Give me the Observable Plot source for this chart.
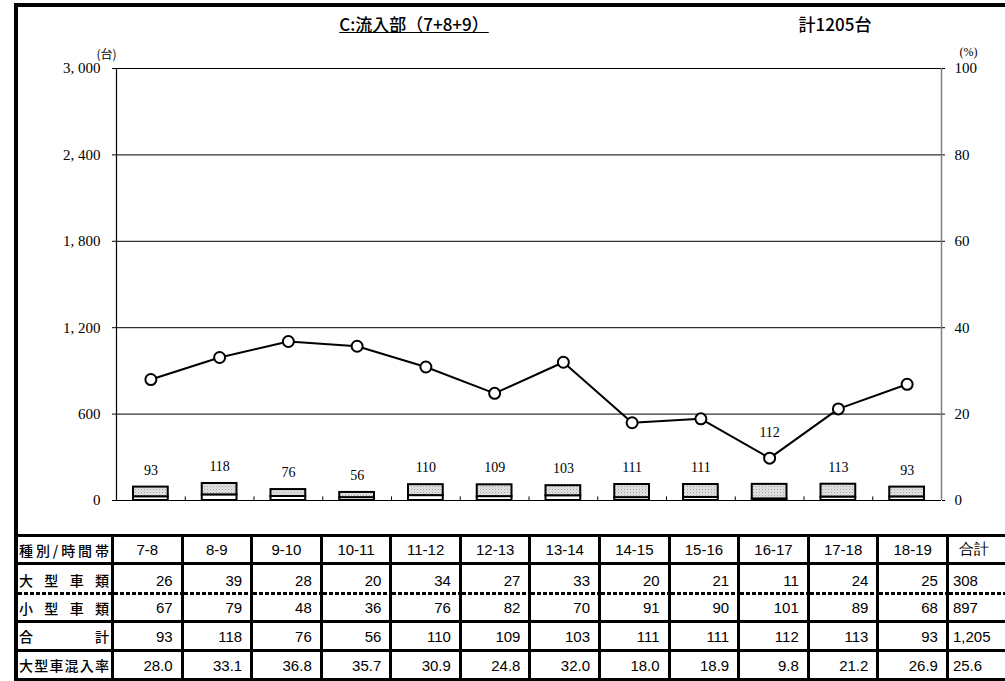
<!DOCTYPE html>
<html>
<head>
<meta charset="utf-8">
<script src="https://cdn.jsdelivr.net/npm/d3@7"></script>
<script src="https://cdn.jsdelivr.net/npm/@observablehq/plot@0.6"></script>
<style>
  html, body { margin: 0; padding: 0; background: #fff; overflow: hidden; }
  #wrap { position: relative; width: 1005px; height: 681px; overflow: hidden; background: #fff; }
  #chart { position: absolute; left: 0; top: 0; }
  #frame { position: absolute; left: 14px; top: 3px; width: 1100px; height: 700px;
           border-left: 4px solid #000; border-top: 4px solid #000; pointer-events: none; z-index: 3; }
  .ttl { position: absolute; top: 12px; font-family: "Noto Sans CJK JP", sans-serif; font-size: 17px; font-weight: 500;
         color: #000; white-space: nowrap; transform: translateX(-50%); line-height: 24px; }
  #table { position: absolute; left: 18px; top: 534px; border-top: 3px solid #000; display: grid; z-index: 2;
           grid-template-columns: 96px repeat(12, 69.58px) 70px; grid-template-rows: 28px 30px 28px 29px 29px; }
  .c { box-sizing: border-box; border-right: 3px solid #000; border-bottom: 3px solid #000; display: flex;
       align-items: center; font-family: "Liberation Sans Narrow", "Liberation Sans", sans-serif; font-size: 15px;
       color: #000; white-space: nowrap; }
  .num { justify-content: flex-end; padding-right: 8px; }
  .last { padding-right: 0; justify-content: flex-start; padding-left: 4px; }
  .hd { justify-content: center; }
  .lab { justify-content: space-between; padding: 0 2px 0 1px; font-family: "Noto Sans CJK JP", sans-serif; font-size: 14px; font-weight: 500; }
  .dot { border-bottom: none; background-image: repeating-linear-gradient(to right, #000 0 4px, transparent 4px 6px);
         background-size: 100% 3px; background-position: left bottom; background-repeat: no-repeat; }
</style>
</head>
<body>
<div id="wrap">
  <div id="chart"></div>
  <div id="frame"></div>
  <div class="ttl" id="t1" style="left:414px; text-decoration: underline;"></div>
  <div class="ttl" id="t2" style="left:835px;"></div>
  <div id="table"></div>
</div>
<script>
// ---- data ----
const title = "C:流入部（7+8+9）";
const totalTitle = "計1205台";
const categories = ["7-8","8-9","9-10","10-11","11-12","12-13","13-14","14-15","15-16","16-17","17-18","18-19"];
const large = [26, 39, 28, 20, 34, 27, 33, 20, 21, 11, 24, 25];
const small = [67, 79, 48, 36, 76, 82, 70, 91, 90, 101, 89, 68];
const totals = [93, 118, 76, 56, 110, 109, 103, 111, 111, 112, 113, 93];
const rates = [28.0, 33.1, 36.8, 35.7, 30.9, 24.8, 32.0, 18.0, 18.9, 9.8, 21.2, 26.9];
const sumLarge = "308", sumSmall = "897", sumTotal = "1,205", sumRate = "25.6";
const yTicks = [0, 600, 1200, 1800, 2400, 3000];
const rateTicks = [0, 20, 40, 60, 80, 100];
const rowLabels = ["種別/時間帯", "大型車類", "小型車類", "合計", "大型車混入率"];
const headerTotal = "合計";

// ---- chart ----
const W = 1005, H = 530, mL = 116, mR = 64;
const yMax = yTicks[yTicks.length - 1], rateMax = rateTicks[rateTicks.length - 1];
const k = yMax / rateMax;
const bw = (W - mL - mR) / categories.length;
const rows = categories.map((c, i) => ({cat: c, large: large[i], small: small[i], total: totals[i], rate: rates[i]}));
const near = d => d.rate * k - d.total < 300 && d.rate * k > d.total;
const fmt = d => d3.format(",")(d).replace(",", ", ");

const svg = Plot.plot({
  width: W, height: H,
  marginLeft: mL, marginRight: mR, marginTop: 68, marginBottom: 30,
  style: {fontFamily: "'Liberation Serif', serif", fontSize: "15px", color: "#000", background: "transparent"},
  x: {type: "band", domain: categories, padding: 0, round: false, axis: null},
  y: {domain: [0, yMax], axis: null},
  marks: [
    Plot.ruleY(yTicks, {stroke: "#000", strokeWidth: 1}),
    Plot.ruleX([categories[categories.length - 1]], {dx: bw / 2, stroke: "#808080", strokeWidth: 1.5}),
    Plot.ruleX([categories[0]], {dx: -bw / 2, stroke: "#000", strokeWidth: 1.2}),
    Plot.ruleX(categories.slice(0, -1), {dx: bw / 2, y1: 0, y2: 25, stroke: "#000"}),
    Plot.axisY(yTicks, {anchor: "left", tickSize: 4, tickPadding: 12, tickFormat: fmt, fontSize: 15}),
    Plot.axisY(rateTicks.map(r => r * k), {anchor: "right", tickSize: 3, tickPadding: 10, tickFormat: d => String(Math.round(d / k)), fontSize: 15, textAnchor: "start"}),
    Plot.barY(rows, {x: "cat", y1: 0, y2: "large", fill: "#fff", stroke: "#000", strokeWidth: 2, insetLeft: 17, insetRight: 17}),
    Plot.barY(rows, {x: "cat", y1: "large", y2: "total", fill: "url(#dots)", stroke: "#000", strokeWidth: 2, insetLeft: 17, insetRight: 17}),
    Plot.line(rows, {x: "cat", y: d => d.rate * k, stroke: "#000", strokeWidth: 2}),
    Plot.dot(rows, {x: "cat", y: d => d.rate * k, r: 5.5, fill: "#fff", stroke: "#000", strokeWidth: 2}),
    Plot.text(rows, {filter: d => !near(d), x: "cat", y: "total", dy: -17, text: d => String(d.total), fontSize: 14}),
    Plot.text(rows, {filter: near, x: "cat", y: d => d.rate * k, dy: -26, text: d => String(d.total), fontSize: 14}),
    Plot.text(["(台)"], {frameAnchor: "top-left", dx: -20, dy: -18, text: d => d, fontFamily: "'Noto Sans CJK JP', sans-serif", fontSize: 12}),
    Plot.text(["(%)"], {frameAnchor: "top-right", dx: 36, dy: -21, text: d => d, fontSize: 12})
  ]
});
const defs = d3.select(svg).insert("defs", ":first-child");
const pat = defs.append("pattern").attr("id", "dots").attr("width", 3).attr("height", 3).attr("patternUnits", "userSpaceOnUse");
pat.append("rect").attr("width", 3).attr("height", 3).attr("fill", "#e4e4e4");
pat.append("rect").attr("x", 0).attr("y", 0).attr("width", 1).attr("height", 1).attr("fill", "#9c9c9c");
pat.append("rect").attr("x", 1.5).attr("y", 1.5).attr("width", 1).attr("height", 1).attr("fill", "#b8b8b8");
document.getElementById("chart").appendChild(svg);

document.getElementById("t1").textContent = title;
document.getElementById("t2").textContent = totalTitle;

// ---- table ----
const tbl = document.getElementById("table");
function cell(text, cls) {
  const d = document.createElement("div");
  d.className = "c " + cls;
  if (cls.includes("lab")) {
    for (const ch of text) { const s = document.createElement("span"); s.textContent = ch; d.appendChild(s); }
  } else d.textContent = text;
  tbl.appendChild(d);
  return d;
}
cell(rowLabels[0], "lab");
categories.forEach(c => cell(c, "hd"));
cell(headerTotal, "hd").style.paddingRight = "16px";
const bodyRows = [
  [rowLabels[1], large.map(String), sumLarge, " dot"],
  [rowLabels[2], small.map(String), sumSmall, ""],
  [rowLabels[3], totals.map(String), sumTotal, ""],
  [rowLabels[4], rates.map(v => v.toFixed(1)), sumRate, ""]
];
for (const [lab, vals, sum, extra] of bodyRows) {
  cell(lab, "lab" + extra);
  vals.forEach(v => cell(v, "num" + extra));
  cell(sum, "num last" + extra);
}
</script>
</body>
</html>
